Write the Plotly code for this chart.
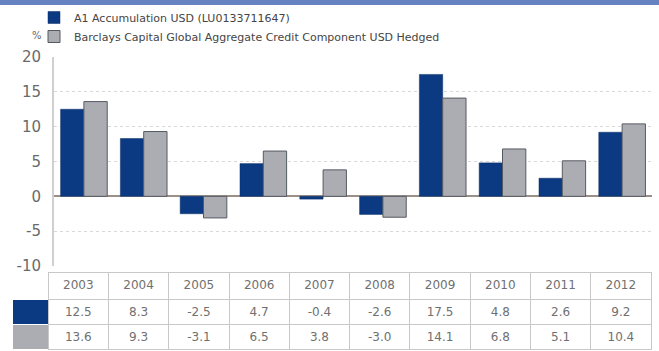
import plotly.graph_objects as go

years = ["2003", "2004", "2005", "2006", "2007", "2008", "2009", "2010", "2011", "2012"]
fund = [12.5, 8.3, -2.5, 4.7, -0.4, -2.6, 17.5, 4.8, 2.6, 9.2]
bench = [13.6, 9.3, -3.1, 6.5, 3.8, -3.0, 14.1, 6.8, 5.1, 10.4]
fund_name = "A1 Accumulation USD (LU0133711647)"
bench_name = "Barclays Capital Global Aggregate Credit Component USD Hedged"
y_ticks = [-10, -5, 0, 5, 10, 15, 20]

BLUE = "#0b3a82"
GRAY = "#abadb2"
W, H = 659, 351
FONT = "DejaVu Sans, Liberation Sans, Arial"

def fx(px):
    return px / W

def fy(py):
    return 1 - py / H

fig = go.Figure()
fig.add_trace(go.Bar(x=years, y=fund, name=fund_name, marker=dict(color=BLUE, line=dict(color="#0a2f66", width=0.5))))
fig.add_trace(go.Bar(x=years, y=bench, name=bench_name, marker=dict(color=GRAY, line=dict(color="#555a62", width=1))))

fmt = lambda v: f"{v:.1f}"
ncol = len(years)
fig.add_trace(go.Table(
    domain=dict(x=[fx(12), fx(651)], y=[fy(351), fy(272)]),
    columnwidth=[36] + [60] * ncol,
    header=dict(values=[""] + years, height=27,
                fill_color="white",
                line=dict(color=["white"] + ["#c8c8c8"] * ncol, width=1),
                font=dict(family=FONT, size=12, color="#707070"),
                align="center"),
    cells=dict(values=[["", ""]] + [[fmt(a), fmt(b)] for a, b in zip(fund, bench)],
               height=25,
               fill_color=[[BLUE, GRAY]] + [["white", "white"]] * ncol,
               line=dict(color=["white"] + ["#c8c8c8"] * ncol, width=1),
               font=dict(family=FONT, size=12, color="#707070"),
               align="center"),
))

fig.update_layout(
    width=W, height=H,
    margin=dict(l=0, r=0, t=0, b=0, autoexpand=False),
    paper_bgcolor="white", plot_bgcolor="white",
    barmode="group", bargap=0.22, bargroupgap=0.0,
    font=dict(family=FONT, color="#555"),
    showlegend=True,
    legend=dict(x=fx(34), y=fy(3), xanchor="left", yanchor="top",
                orientation="v", font=dict(size=11, color="#454545"),
                bgcolor="rgba(0,0,0,0)", tracegroupgap=0, itemwidth=30),
    xaxis=dict(domain=[fx(54), fx(652)], showticklabels=False, showgrid=False,
               zeroline=False, showline=False, ticks=""),
    yaxis=dict(domain=[fy(266), fy(57)], range=[-10, 20], tickvals=y_ticks,
               ticktext=[str(v) for v in y_ticks],
               tickfont=dict(family=FONT, size=15, color="#6a6a6a"),
               showgrid=True, gridcolor="#d8d8d8", griddash="dot", gridwidth=1,
               zeroline=True, zerolinecolor="#9a9088", zerolinewidth=1.5,
               showline=True, linecolor="#d0d0d0", linewidth=2,
               ticks="", ticklabelstandoff=8),
    shapes=[dict(type="rect", xref="paper", yref="paper", x0=0, x1=1, y0=fy(5), y1=1,
                 fillcolor="#6682c0", line=dict(width=0))],
    annotations=[dict(text="%", xref="paper", yref="paper", x=fx(30), y=fy(36),
                      yanchor="middle", showarrow=False, font=dict(size=10, color="#666"))],
)

fig.write_html("out.html", config={"displayModeBar": False},
               post_script="document.body.style.margin='0px';")
